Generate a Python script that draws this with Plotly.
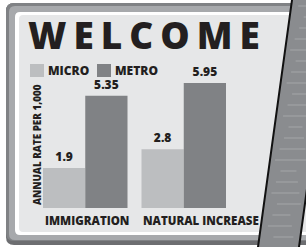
import plotly.graph_objects as go

categories = ["IMMIGRATION", "NATURAL INCREASE"]
series_names = ["MICRO", "METRO"]
micro_values = [1.9, 2.8]
metro_values = [5.35, 5.95]
value_labels_micro = ["1.9", "2.8"]
value_labels_metro = ["5.35", "5.95"]
title_text = "WELCOME"
y_title = "ANNUAL RATE PER 1,000"

W, H = 306, 247
L, R, T, B = 43, 80, 61, 39
PW, PH = W - L - R, H - T - B
DARK = "#231f20"
C_MICRO = "#bcbec0"
C_METRO = "#808285"
FONT = "Open Sans"
WT = 800


def px(x):
    return (x - L) / PW


def py(y):
    return (H - B - y) / PH


def rrect(x0, y0, x1, y1, r):
    pts = [
        f"M{px(x0 + r)},{py(y0)}",
        f"L{px(x1 - r)},{py(y0)}",
        f"Q{px(x1)},{py(y0)} {px(x1)},{py(y0 + r)}",
        f"L{px(x1)},{py(y1 - r)}",
        f"Q{px(x1)},{py(y1)} {px(x1 - r)},{py(y1)}",
        f"L{px(x0 + r)},{py(y1)}",
        f"Q{px(x0)},{py(y1)} {px(x0)},{py(y1 - r)}",
        f"L{px(x0)},{py(y0 + r)}",
        f"Q{px(x0)},{py(y0)} {px(x0 + r)},{py(y0)}",
        "Z",
    ]
    return " ".join(pts)


shapes = []
for (x0, y0, x1, y1, r, col) in [
    (6, 3, 330, 245, 8, "#6d6e71"),
    (6, 3, 330, 241, 8, "#808285"),
    (9, 6, 330, 240, 6, "#a7a9ac"),
    (15, 12, 330, 235, 5, "#ffffff"),
    (19, 15, 330, 232, 4, "#e6e7e8"),
]:
    shapes.append(dict(type="path", xref="paper", yref="paper", layer="below",
                       path=rrect(x0, y0, x1, y1, r), fillcolor=col, line=dict(width=0)))

# legend swatches
for sx, col in [(30, C_MICRO), (97, C_METRO)]:
    shapes.append(dict(type="rect", xref="paper", yref="paper", layer="above",
                       x0=px(sx), x1=px(sx + 14), y0=py(77), y1=py(64),
                       fillcolor=col, line=dict(width=0)))

# sign post
slope = 34 / 247
def edge(y):
    return 292 - slope * y

post = (f"M{px(edge(-5)):.5f},{py(-5):.5f} L{px(edge(-5) + 41):.5f},{py(-5):.5f} "
        f"L{px(edge(252) + 41):.5f},{py(252):.5f} L{px(edge(252)):.5f},{py(252):.5f} Z")
shapes.append(dict(type="path", xref="paper", yref="paper", layer="above",
                   path=post, fillcolor="#8a8c8f", line=dict(color="#111111", width=2)))
for yy in range(6, 247, 11):
    xl = edge(yy) + 5 + (yy * 7) % 10
    xr = edge(yy) + 41 - 4 - (yy * 3) % 12
    shapes.append(dict(type="line", xref="paper", yref="paper", layer="above",
                       x0=px(xl), x1=px(xr), y0=py(yy), y1=py(yy),
                       line=dict(color="#a4a6a8", width=1)))

fig = go.Figure()
fig.add_trace(go.Bar(x=categories, y=micro_values, name=series_names[0],
                     marker=dict(color=C_MICRO, line=dict(width=0)),
                     text=value_labels_micro, textposition="outside",
                     textfont=dict(family=FONT, size=12, color=DARK, weight=WT),
                     cliponaxis=False, hoverinfo="skip"))
fig.add_trace(go.Bar(x=categories, y=metro_values, name=series_names[1],
                     marker=dict(color=C_METRO, line=dict(width=0)),
                     text=value_labels_metro, textposition="outside",
                     textfont=dict(family=FONT, size=12, color=DARK, weight=WT),
                     cliponaxis=False, hoverinfo="skip"))

annotations = [
    dict(text=f'<span style="letter-spacing:7px">{title_text}</span>', xref="paper", yref="paper",
         x=px(147), y=py(34), xanchor="center", yanchor="middle", showarrow=False,
         font=dict(family=FONT, size=37, color=DARK, weight=WT)),
    dict(text=series_names[0], xref="paper", yref="paper", x=px(46), y=py(70.5),
         xanchor="left", yanchor="middle", showarrow=False,
         font=dict(family=FONT, size=12, color=DARK, weight=WT)),
    dict(text=series_names[1], xref="paper", yref="paper", x=px(113), y=py(70.5),
         xanchor="left", yanchor="middle", showarrow=False,
         font=dict(family=FONT, size=12, color=DARK, weight=WT)),
    dict(text=y_title, xref="paper", yref="paper", x=px(37), y=py(145),
         xanchor="center", yanchor="middle", textangle=-90, showarrow=False,
         font=dict(family=FONT, size=9.8, color=DARK, weight=WT)),
]
for c in categories:
    annotations.append(dict(text=c, xref="x", yref="paper", x=c, y=py(220.5),
                            xanchor="left", yanchor="middle", xshift=-42.5, showarrow=False,
                            font=dict(family=FONT, size=11.5, color=DARK, weight=WT)))

fig.update_layout(
    width=W, height=H, margin=dict(l=L, r=R, t=T, b=B),
    paper_bgcolor="white", plot_bgcolor="rgba(0,0,0,0)",
    barmode="group", bargap=0.142, bargroupgap=0,
    showlegend=False, hovermode=False,
    xaxis=dict(range=[-0.429, 1.429], showticklabels=False, showgrid=False,
               zeroline=False, showline=False, ticks="", fixedrange=True),
    yaxis=dict(range=[0, 7], showticklabels=False, showgrid=False,
               zeroline=False, showline=False, ticks="", fixedrange=True),
    shapes=shapes, annotations=annotations,
)
fig.write_html("out.html", config={"displayModeBar": False, "staticPlot": True},
               post_script="document.body.style.margin='0';")
